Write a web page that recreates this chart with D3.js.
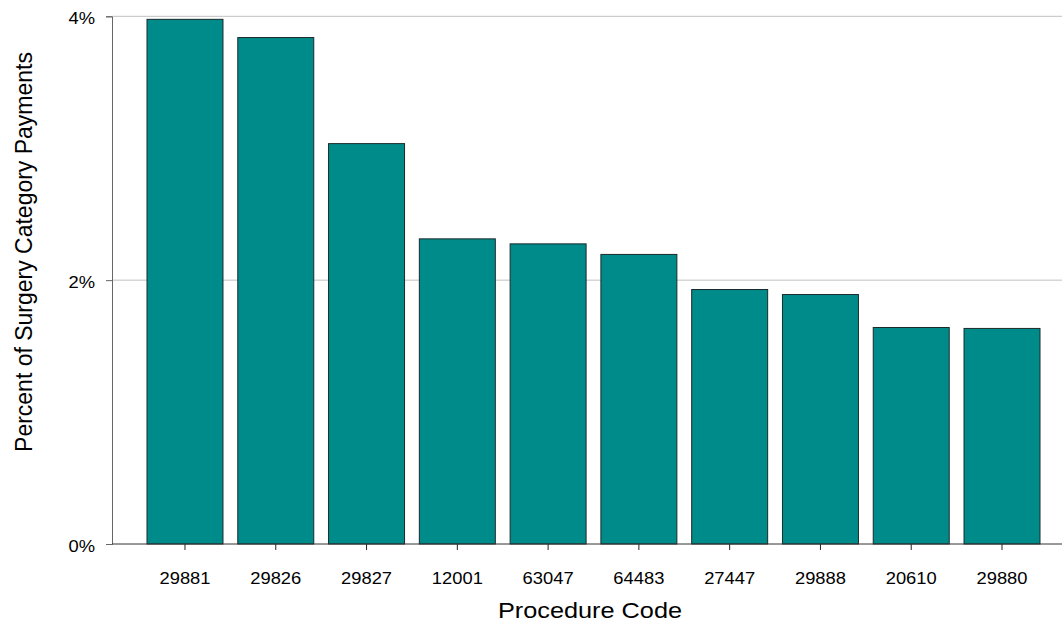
<!DOCTYPE html>
<html><head><meta charset="utf-8">
<script src="https://cdn.jsdelivr.net/npm/d3@7"></script>
<style>body{margin:0;background:#fff}svg{display:block;font-family:"Liberation Sans",Arial,sans-serif}</style>
</head><body>
<svg id="c" width="1062" height="627"></svg>
<script>
const categories = ["29881","29826","29827","12001","63047","64483","27447","29888","20610","29880"];
const values = [3.977,3.839,3.035,2.313,2.275,2.195,1.929,1.891,1.641,1.634];
const yTicks = [0,2,4];

(function(){
const svg = d3.select("#c");
const pl = 112, pr = 1062, pt = 16.3, pb = 544;
const FF = "Liberation Sans, Arial, sans-serif";
const x = d3.scaleBand().domain(categories).range([139.6, 1047.4]).paddingInner(0.163).paddingOuter(0.0815);
const y = d3.scaleLinear().domain([0,4]).range([pb, pt]);

// gridlines
svg.append("g").selectAll("line").data(yTicks.filter(d=>d>0)).join("line")
  .attr("x1", pl).attr("x2", pr)
  .attr("y1", d=>y(d)).attr("y2", d=>y(d))
  .attr("stroke", "#c0c0c0").attr("stroke-width", 1);

// bars
svg.append("g").selectAll("rect").data(values).join("rect")
  .attr("x", (d,i)=>x(categories[i]))
  .attr("width", x.bandwidth())
  .attr("y", d=>y(d))
  .attr("height", d=>pb - y(d))
  .attr("fill", "#008b8b")
  .attr("stroke", "#1a2a2a").attr("stroke-width", 1);

// y axis
const ya = svg.append("g").attr("transform", `translate(${pl},0)`)
  .call(d3.axisLeft(y).tickValues(yTicks).tickFormat(d=>d+"%").tickSize(6).tickPadding(11));
ya.select(".domain").attr("stroke", "#666");
ya.selectAll(".tick line").attr("stroke", "#666");
ya.selectAll(".tick text").each(function(){
  const t = d3.select(this);
  const tx = +t.attr("x");
  t.attr("x", null).attr("transform", `translate(${tx},2) scale(1.08,1)`);
}).attr("font-size", 17).attr("fill", "#000").attr("font-family", FF);

// x axis
const xa = svg.append("g").attr("transform", `translate(0,${pb})`)
  .call(d3.axisBottom(x).tickSize(6).tickSizeOuter(0).tickPadding(22));
xa.select(".domain").remove();
xa.selectAll(".tick line").attr("stroke", "#222");
xa.selectAll(".tick text").each(function(){
  const t = d3.select(this);
  const ty = +t.attr("y");
  t.attr("y", null).attr("transform", `translate(0,${ty}) scale(1.08,1)`);
}).attr("font-size", 17).attr("fill", "#000").attr("font-family", FF);
svg.append("line").attr("x1", pl).attr("x2", pr).attr("y1", pb).attr("y2", pb)
  .attr("stroke", "#333").attr("stroke-width", 1);

// titles
svg.append("text").attr("transform", "translate(590,618) scale(1.15,1)").attr("text-anchor", "middle")
  .attr("font-size", 22).text("Procedure Code");
svg.append("text").attr("transform", "translate(32,252) scale(1.08,1) rotate(-90)").attr("text-anchor", "middle")
  .attr("font-size", 23).text("Percent of Surgery Category Payments");
})();
</script>
</body></html>
